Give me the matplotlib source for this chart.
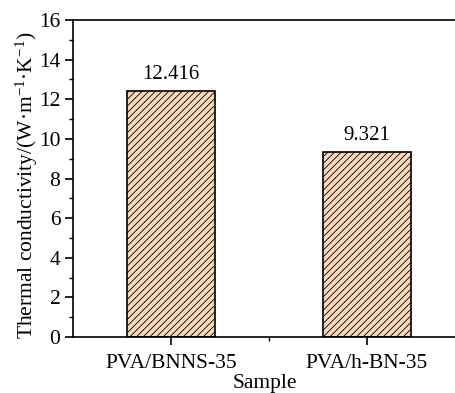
import matplotlib
matplotlib.use("Agg")
import matplotlib.pyplot as plt
from matplotlib.ticker import MultipleLocator, FixedLocator

plt.rcParams['font.family'] = ['Liberation Serif', 'DejaVu Serif']
plt.rcParams['mathtext.fontset'] = 'custom'
plt.rcParams['mathtext.rm'] = 'Liberation Serif'
plt.rcParams['mathtext.it'] = 'Liberation Serif:italic'
plt.rcParams['mathtext.bf'] = 'Liberation Serif:bold'
plt.rcParams['hatch.color'] = '#5a5a5a'
plt.rcParams['hatch.linewidth'] = 0.6

categories = ['PVA/BNNS-35', 'PVA/h-BN-35']
values = [12.416, 9.321]
value_labels = ['12.416', '9.321']

FS = 15.5

fig = plt.figure(figsize=(4.56, 3.93), dpi=100)
ax = fig.add_axes([0.160, 0.1425, 0.84, 0.8065])

x = [1, 2]
bars = ax.bar(x, values, width=0.45, color='#F8D9B9', edgecolor='black',
              linewidth=1.2, hatch='/////')
for xi, v, lab in zip(x, values, value_labels):
    ax.text(xi, v + 0.35, lab, ha='center', va='bottom', fontsize=15)

ax.set_xlim(0.5, 2.454)
ax.set_ylim(0, 16)
ax.set_xticks(x)
ax.set_xticklabels(categories, fontsize=FS)
ax.xaxis.set_minor_locator(FixedLocator([1.5]))
ax.yaxis.set_major_locator(MultipleLocator(2))
ax.yaxis.set_minor_locator(MultipleLocator(1))
ax.tick_params(axis='both', which='major', direction='out', length=6, width=1.2,
               labelsize=FS, pad=3)
ax.tick_params(axis='x', which='major', pad=6)
ax.tick_params(axis='both', which='minor', direction='out', length=3, width=1.0)
ax.spines['right'].set_visible(False)
for s in ['left', 'bottom', 'top']:
    ax.spines[s].set_linewidth(1.2)

ax.set_ylabel(r'Thermal conductivity/(W·m$^{\mathrm{-1}}$·K$^{\mathrm{-1}}$)',
              fontsize=FS)
ax.yaxis.set_label_coords(-0.087, 0.48)
ax.set_xlabel('Sample', fontsize=FS, labelpad=1)

fig.savefig('out.png', dpi=100)
